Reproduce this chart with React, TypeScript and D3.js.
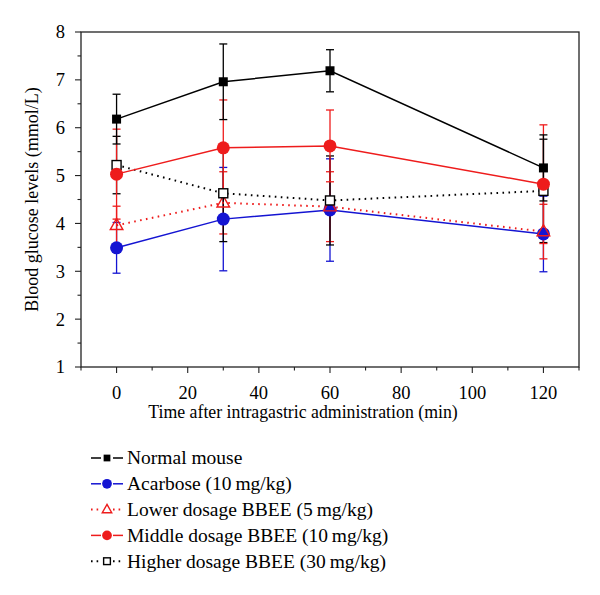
import React from 'react'
import * as d3 from 'd3'

// time points (min)
const times = [0, 30, 60, 120]

const normalMean = [6.18, 6.96, 7.19, 5.16]
const normalSd = [0.52, 0.79, 0.44, 0.69]

const acarboseMean = [3.49, 4.09, 4.28, 3.78]
const acarboseSd = [0.53, 1.08, 1.07, 0.79]

const lowerMean = [3.96, 4.43, 4.35, 3.83]
const lowerSd = [0.4, 0.65, 0.73, 0.57]

const middleMean = [5.03, 5.58, 5.62, 4.82]
const middleSd = [0.94, 1.0, 0.75, 1.24]

const higherMean = [5.22, 4.63, 4.48, 4.68]
const higherSd = [0.6, 1.01, 0.93, 1.08]

const xTicks = [0, 20, 40, 60, 80, 100, 120]
const yTicks = [1, 2, 3, 4, 5, 6, 7, 8]

const BLUE = '#1414d2'
const RED = '#ee1c1c'
const BLACK = '#000'

type Series = {
  name: string
  mean: number[]
  sd: number[]
  color: string
  dotted: boolean
  marker: 'fsquare' | 'fcircle' | 'otri' | 'osquare'
}

const series: Series[] = [
  { name: 'Normal mouse', mean: normalMean, sd: normalSd, color: BLACK, dotted: false, marker: 'fsquare' },
  { name: 'Acarbose (10\u2009mg/kg)', mean: acarboseMean, sd: acarboseSd, color: BLUE, dotted: false, marker: 'fcircle' },
  { name: 'Lower dosage BBEE (5\u2009mg/kg)', mean: lowerMean, sd: lowerSd, color: RED, dotted: true, marker: 'otri' },
  { name: 'Middle dosage BBEE (10\u2009mg/kg)', mean: middleMean, sd: middleSd, color: RED, dotted: false, marker: 'fcircle' },
  { name: 'Higher dosage BBEE (30\u2009mg/kg)', mean: higherMean, sd: higherSd, color: BLACK, dotted: true, marker: 'osquare' },
]

// draw order in plot (last on top)
const drawOrder = [1, 2, 4, 3, 0]

const FONT = '"Liberation Serif", "DejaVu Serif", serif'

function Marker({ type, x, y, color, scale = 1 }: { type: Series['marker']; x: number; y: number; color: string; scale?: number }) {
  if (type === 'fsquare') {
    const s = 9 * scale
    return <rect x={x - s / 2} y={y - s / 2} width={s} height={s} fill={color} />
  }
  if (type === 'osquare') {
    const s = 9 * scale
    return <rect x={x - s / 2} y={y - s / 2} width={s} height={s} fill="white" stroke={color} strokeWidth={1.4} />
  }
  if (type === 'fcircle') {
    return <circle cx={x} cy={y} r={6.5 * scale} fill={color} />
  }
  const r = 7 * scale
  const pts = [
    [x, y - r],
    [x + r * 0.9, y + r * 0.6],
    [x - r * 0.9, y + r * 0.6],
  ]
  return <polygon points={pts.map(p => p.join(',')).join(' ')} fill="none" stroke={color} strokeWidth={1.4} />
}

export default function App() {
  const left = 81, right = 579, top = 32, bottom = 367

  const x = d3.scaleLinear().domain([-10, 130]).range([left, right])
  const y = d3.scaleLinear().domain([1, 8]).range([bottom, top])

  const line = d3.line<number>()
    .x((_, i) => x(times[i]))
    .y(d => y(d))

  const xMinor = d3.range(-10, 131, 10)
  const yMinor = d3.range(1, 8.01, 0.5)

  return (
    <div style={{ position: 'absolute', left: 0, top: 0 }}>
      <svg width={600} height={595} style={{ fontFamily: FONT, background: 'white' }}>
        {/* frame */}
        <rect x={left} y={top} width={right - left} height={bottom - top} fill="none" stroke="#222" strokeWidth={1.3} />

        {/* y axis ticks */}
        {yMinor.map(v => (
          <line key={'ym' + v} x1={left} x2={left - (Number.isInteger(v) ? 6 : 3.5)} y1={y(v)} y2={y(v)} stroke="#222" strokeWidth={1.1} />
        ))}
        {yTicks.map(v => (
          <text key={'yt' + v} x={left - 16} y={y(v)} dy="0.35em" textAnchor="end" fontSize={18.5}>{v}</text>
        ))}

        {/* x axis ticks */}
        {xMinor.map(v => (
          <line key={'xm' + v} x1={x(v)} x2={x(v)} y1={bottom} y2={bottom + (v % 20 === 0 ? 6 : 3.5)} stroke="#222" strokeWidth={1.1} />
        ))}
        {xTicks.map(v => (
          <text key={'xt' + v} x={x(v)} y={399} textAnchor="middle" fontSize={18.5}>{v}</text>
        ))}

        <text x={303} y={418} textAnchor="middle" fontSize={17.8}>Time after intragastric administration (min)</text>
        <text transform={`translate(38,${(top + bottom) / 2}) rotate(-90)`} textAnchor="middle" fontSize={18}>Blood glucose levels (mmol/L)</text>

        {/* error bars */}
        {drawOrder.map(si => {
          const s = series[si]
          return (
            <g key={'eb' + si} stroke={s.color} strokeWidth={1.3}>
              {s.mean.map((m, i) => {
                const cx = x(times[i])
                const y0 = y(m - s.sd[i]), y1 = y(m + s.sd[i])
                return (
                  <g key={i}>
                    <line x1={cx} x2={cx} y1={y0} y2={y1} />
                    <line x1={cx - 4} x2={cx + 4} y1={y0} y2={y0} />
                    <line x1={cx - 4} x2={cx + 4} y1={y1} y2={y1} />
                  </g>
                )
              })}
            </g>
          )
        })}

        {/* lines */}
        {drawOrder.map(si => {
          const s = series[si]
          return (
            <path key={'ln' + si} d={line(s.mean) || ''} fill="none" stroke={s.color}
              strokeWidth={s.dotted ? 2 : 1.5}
              strokeDasharray={s.dotted ? '1.6,4.4' : undefined} />
          )
        })}

        {/* markers */}
        {drawOrder.map(si => {
          const s = series[si]
          return (
            <g key={'mk' + si}>
              {s.mean.map((m, i) => (
                <Marker key={i} type={s.marker} x={x(times[i])} y={y(m)} color={s.color} />
              ))}
            </g>
          )
        })}

        {/* legend */}
        {series.map((s, i) => {
          const ly = 458 + i * 25.8
          const mx = 107
          return (
            <g key={'lg' + i}>
              <line x1={91} x2={mx - 6} y1={ly} y2={ly} stroke={s.color} strokeWidth={s.dotted ? 2 : 1.5}
                strokeDasharray={s.dotted ? '1.6,4' : undefined} />
              <line x1={mx + 6} x2={123} y1={ly} y2={ly} stroke={s.color} strokeWidth={s.dotted ? 2 : 1.5}
                strokeDasharray={s.dotted ? '1.6,4' : undefined} />
              <Marker type={s.marker} x={mx} y={ly} color={s.color} scale={0.75} />
              <text x={127} y={ly} dy="0.33em" fontSize={19.5}>{s.name}</text>
            </g>
          )
        })}
      </svg>
    </div>
  )
}
